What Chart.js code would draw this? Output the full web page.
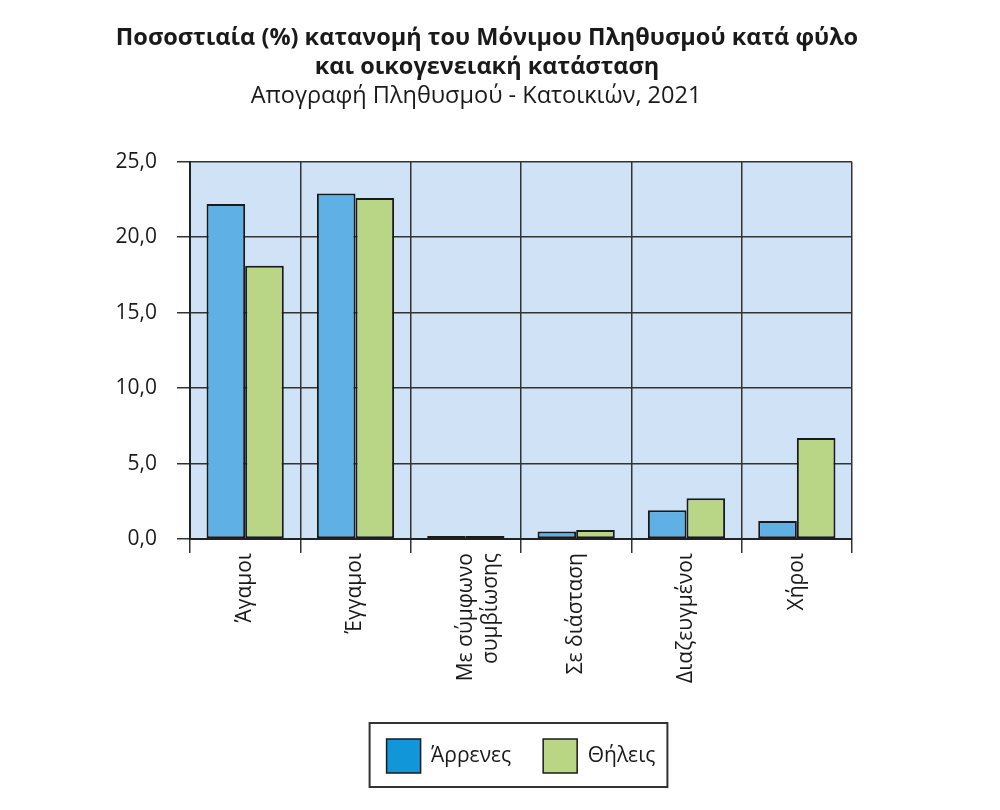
<!DOCTYPE html>
<html>
<head>
<meta charset="utf-8">
<script src="https://cdn.jsdelivr.net/npm/chart.js@4.4.1/dist/chart.umd.min.js"></script>
<style>
  html, body { margin: 0; padding: 0; background: #ffffff; }
  #wrap { width: 1000px; height: 810px; }
</style>
</head>
<body>
<div id="wrap"><canvas id="statusChart" width="1000" height="810"></canvas></div>
<script>
// ---- data ----
const categories = ["Άγαμοι", "Έγγαμοι", ["Με σύμφωνο", "συμβίωσης"], "Σε διάσταση", "Διαζευγμένοι", "Χήροι"];
const maleValues = [22.2, 22.9, 0.2, 0.5, 1.9, 1.2];
const femaleValues = [18.1, 22.6, 0.2, 0.6, 2.7, 6.7];
const seriesNames = ["Άρρενες", "Θήλεις"];
const yMin = 0;
const yMax = 25;
const yStep = 5;

const titleLines = ["Ποσοστιαία (%) κατανομή του Μόνιμου Πληθυσμού κατά φύλο", "και οικογενειακή κατάσταση"];
const subtitleText = "Απογραφή Πληθυσμού - Κατοικιών, 2021";

// ---- styles ----
const FONT = "'Open Sans', 'Noto Sans', sans-serif";
const barColors = ["#5eb0e5", "#b9d686"];
const legendColors = ["#1196da", "#b9d685"];
const lineColor = "#333333";
const textColor = "#1a1a1a";

// plot background
const plotBackground = {
    id: "plotBackground",
    beforeDraw(chart) {
        const { ctx, chartArea } = chart;
        ctx.save();
        ctx.fillStyle = "#cfe2f6";
        ctx.fillRect(chartArea.left, chartArea.top, chartArea.width, chartArea.height);
        ctx.restore();
    }
};

// the headings are not centred on the canvas in the original
const headingShift = {
    id: "headingShift",
    afterLayout(chart) {
        chart.boxes.forEach(function (b) {
            if (!b.options) return;
            let dx = 0;
            if (b.options.text === subtitleText) dx = 30;
            else if (b.options.text === titleLines) dx = 41;
            b.left += dx;
            b.right += dx;
        });
    }
};

// frame around the legend
const legendFrame = {
    id: "legendFrame",
    afterDraw(chart) {
        const boxes = chart.legend && chart.legend.legendHitBoxes;
        if (!boxes || !boxes.length) return;
        const first = boxes[0];
        const last = boxes[boxes.length - 1];
        const { ctx } = chart;
        ctx.save();
        ctx.strokeStyle = lineColor;
        ctx.lineWidth = 2;
        const x1 = first.left - 17;
        const x2 = last.left + last.width + 12;
        const y1 = first.top - 16;
        const y2 = first.top + first.height + 14;
        ctx.strokeRect(x1, y1, x2 - x1, y2 - y1);
        ctx.restore();
    }
};

const ctx = document.getElementById("statusChart");

new Chart(ctx, {
    type: "bar",
    data: {
        labels: categories,
        datasets: [
            {
                label: seriesNames[0],
                data: maleValues,
                backgroundColor: barColors[0],
                borderColor: "#1a1a1a",
                borderWidth: 2,
                borderSkipped: false,
                categoryPercentage: 0.7,
                barPercentage: 1.0
            },
            {
                label: seriesNames[1],
                data: femaleValues,
                backgroundColor: barColors[1],
                borderColor: "#1a1a1a",
                borderWidth: 2,
                borderSkipped: false,
                categoryPercentage: 0.7,
                barPercentage: 1.0
            }
        ]
    },
    options: {
        responsive: false,
        animation: false,
        devicePixelRatio: 1,
        layout: {
            padding: { left: 40, right: 148, top: 0, bottom: 27 }
        },
        scales: {
            x: {
                offset: true,
                grid: {
                    offset: true,
                    color: lineColor,
                    lineWidth: 1.5,
                    tickLength: 14
                },
                border: { color: "#222222", width: 2 },
                ticks: {
                    autoSkip: false,
                    minRotation: 90,
                    maxRotation: 90,
                    padding: 0,
                    color: textColor,
                    font: { family: FONT, size: 21 }
                },
                afterFit(scale) {
                    scale.height = 168;
                }
            },
            y: {
                min: yMin,
                max: yMax,
                grid: {
                    color: lineColor,
                    lineWidth: 1.5,
                    tickLength: 13
                },
                border: { color: "#222222", width: 2 },
                ticks: {
                    stepSize: yStep,
                    padding: 20,
                    color: textColor,
                    font: { family: FONT, size: 21 },
                    callback: function (v) {
                        return v.toFixed(1).replace(".", ",");
                    }
                },
                afterFit(scale) {
                    scale.width = 150;
                }
            }
        },
        plugins: {
            title: {
                display: true,
                text: titleLines,
                color: textColor,
                font: { family: FONT, size: 23.5, weight: "bold", lineHeight: 1.23 },
                padding: { top: 24, bottom: 0 }
            },
            subtitle: {
                display: true,
                text: subtitleText,
                color: textColor,
                font: { family: FONT, size: 23.5, weight: "normal", lineHeight: 1.23 },
                padding: { top: 0, bottom: 51 }
            },
            legend: {
                position: "bottom",
                fullSize: false,
                labels: {
                    boxWidth: 34,
                    boxHeight: 34,
                    padding: 32,
                    color: textColor,
                    font: { family: FONT, size: 21 },
                    generateLabels(chart) {
                        const items = Chart.defaults.plugins.legend.labels.generateLabels(chart);
                        items.forEach(function (it, i) {
                            it.fillStyle = legendColors[i];
                            it.strokeStyle = "#1a1a1a";
                            it.lineWidth = 1.5;
                        });
                        return items;
                    }
                }
            },
            tooltip: { enabled: false }
        }
    },
    plugins: [plotBackground, headingShift, legendFrame]
});
</script>
</body>
</html>
